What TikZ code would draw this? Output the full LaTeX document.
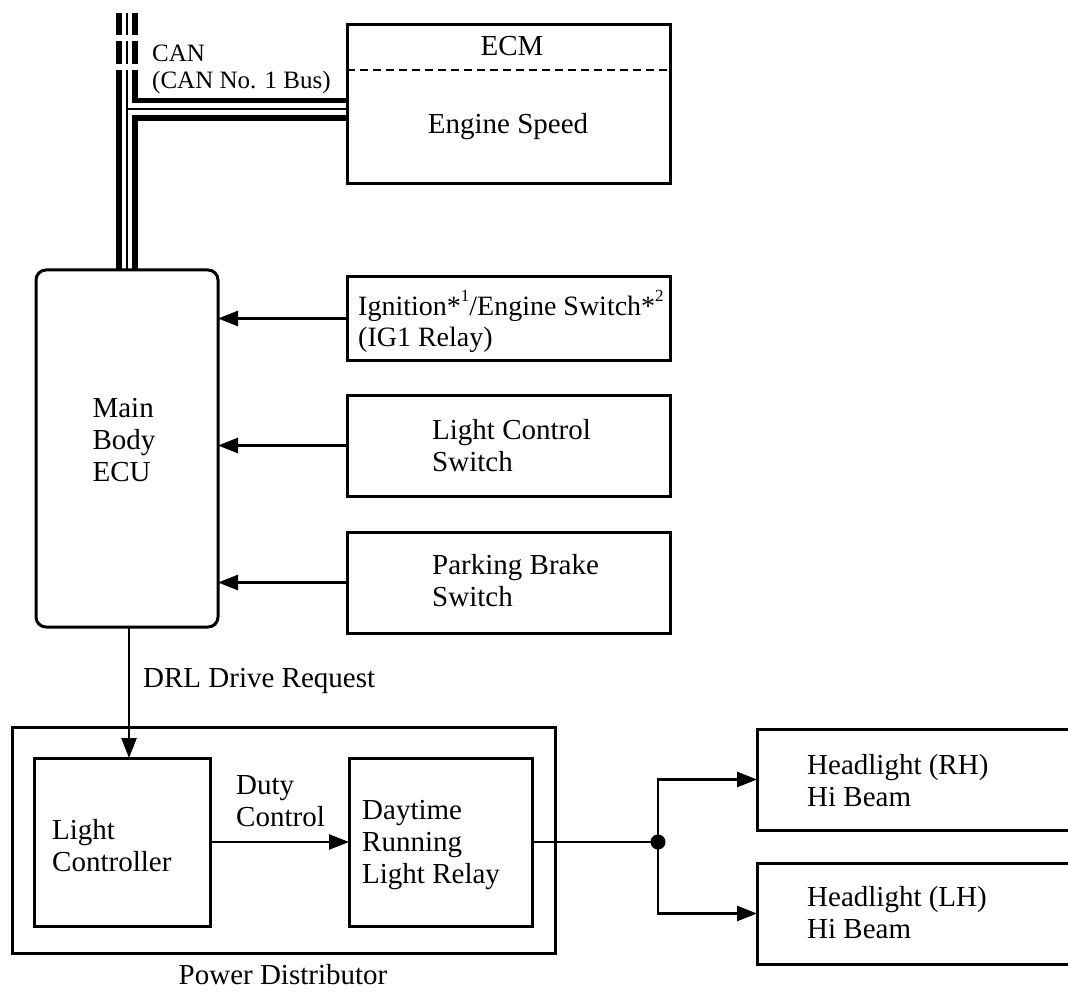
\documentclass[tikz,border=0pt]{standalone}
\usepackage{fontspec}
\setmainfont{Liberation Serif}
\usetikzlibrary{arrows.meta,calc}

\newcommand{\supnum}[1]{\raisebox{0.5em}{\fontsize{17}{17}\selectfont #1}}

\begin{document}
\begin{tikzpicture}[x=1pt,y=-1pt,
  box/.style={draw,line width=3pt,inner sep=0pt,outer sep=0pt},
  lbl/.style={inner sep=0pt,align=left,font=\fontsize{29}{32}\selectfont},
  smalllbl/.style={inner sep=0pt,align=left,font=\fontsize{25}{27}\selectfont},
  sig/.style={line width=2.6pt,-{Triangle[length=20pt,width=15pt]}},
  wire/.style={line width=2.6pt},
  busthick/.style={line width=5.5pt},
  busthin/.style={line width=2pt},
]
\clip (0,0) rectangle (1068,992);

% ---- ECM ----
\node[box,minimum width=323pt,minimum height=159pt] (ecm) at (508.5,104.5) {};
\draw[line width=2.6pt,dash pattern=on 8pt off 5pt] (347,70) coordinate (ecmdl) -- (ecm.east |- ecmdl);
\node[lbl] (ecmname) at (512,46) {ECM};
\node[lbl] (ecmsig) at (508,127) {Engine Speed};

% ---- Main Body ECU ----
\node[box,rounded corners=10pt,minimum width=182pt,minimum height=357pt] (ecu) at (127,448.5) {};
\node[lbl] (ecutext) at (124,440) {Main\\Body\\ECU};

% ---- switches ----
\node[box,minimum width=323pt,minimum height=83pt] (ign) at (508.5,318.5) {};
\node[lbl,anchor=west,font=\fontsize{28}{31}\selectfont] (igntext) at (358,321)
  {Ignition*\supnum{1}/Engine Switch*\supnum{2}\\(IG1 Relay)};
\node[box,minimum width=323pt,minimum height=101pt] (lcs) at (508.5,445.5) {};
\node[lbl,anchor=west] (lcstext) at (432,446) {Light Control\\Switch};
\node[box,minimum width=323pt,minimum height=101pt] (pbs) at (508.5,582.5) {};
\node[lbl,anchor=west] (pbstext) at (432,581) {Parking Brake\\Switch};

\draw[sig] (ign.west) -- (ecu.east |- ign.west);
\draw[sig] (lcs.west) -- (ecu.east |- lcs.west);
\draw[sig] (pbs.west) -- (ecu.east |- pbs.west);

% ---- CAN bus ----
\coordinate (bustop) at (127,13);
\node[smalllbl,anchor=north west] (canlbl) at (152,45) {CAN\\(CAN No. 1 Bus)};
\foreach \dx/\st in {-8/busthick,0/busthin,8/busthick}{
  \draw[\st] ($(bustop)+(\dx,0)$) -- ++(0,22);
  \draw[\st] ($(bustop)+(\dx,28)$) -- ++(0,23);
}
\draw[busthick] ($(bustop)+(-8,57)$) -- ($(ecu.north)+(-8,0)$);
\draw[busthin]  ($(bustop)+(0,57)$) -- (ecu.north);
\draw[busthick] ($(bustop)+(8,57)$) -- ($(bustop)+(8,87.5)$) -- ($(ecm.west)+(0,-4)$);
\draw[busthin]  ($(bustop)+(0,96)$) -- ($(ecm.west)+(0,4.5)$);
\draw[busthick] ($(ecm.west)+(0,13.5)$) -- ($(bustop)+(8,105)$) -- ($(ecu.north)+(8,0)$);

% ---- Power Distributor ----
\node[box,minimum width=543pt,minimum height=226pt] (pd) at (283.5,840) {};
\node[lbl] (pdname) at (283,975) {Power Distributor};
\node[box,minimum width=176pt,minimum height=168pt] (lc) at (122,842) {};
\node[lbl,anchor=west] (lctext) at (52,846) {Light\\Controller};
\node[box,minimum width=183pt,minimum height=168pt] (relay) at (440.5,842) {};
\node[lbl,anchor=west] (relaytext) at (362,845) {Daytime\\Running\\Light Relay};

\coordinate (drlx) at (129,0);
\draw[sig] (ecu.south -| drlx) -- (lc.north -| drlx);
\node[lbl,anchor=west] (drltext) at (143,681) {DRL Drive Request};

\draw[sig] (lc.east) -- (relay.west);
\node[lbl,anchor=west] (dutytext) at (236,801) {Duty\\Control};

% ---- headlights ----
\node[box,minimum width=343pt,minimum height=101pt] (hrh) at (928.5,779.5) {};
\node[lbl,anchor=west] (hrhtext) at (807,781) {Headlight (RH)\\Hi Beam};
\node[box,minimum width=343pt,minimum height=101pt] (hlh) at (928.5,913.5) {};
\node[lbl,anchor=west] (hlhtext) at (807,913) {Headlight (LH)\\Hi Beam};

\node[circle,fill,inner sep=0pt,minimum size=15pt] (jn) at (658,842) {};
\draw[wire] (relay.east) -- (jn.center);
\draw[sig] (jn.center) |- (hrh.west);
\draw[sig] (jn.center) |- (hlh.west);
\end{tikzpicture}
\end{document}
